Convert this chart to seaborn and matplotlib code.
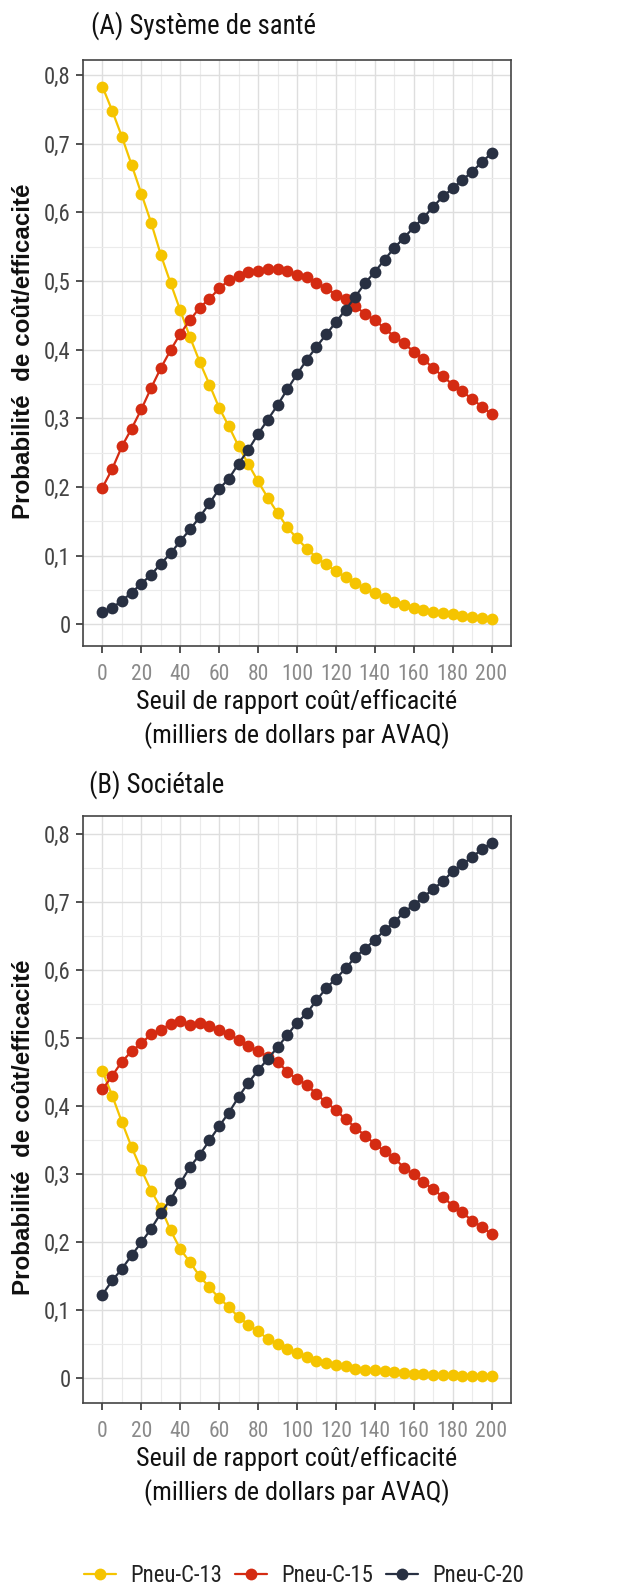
import matplotlib
matplotlib.use("Agg")
import matplotlib.pyplot as plt
import numpy as np
import pandas as pd
import seaborn as sns
from matplotlib import font_manager
from matplotlib.ticker import FixedLocator, MultipleLocator

# --- data -------------------------------------------------------------
seuils = list(range(0, 201, 5))
vaccins = ["Pneu-C-13", "Pneu-C-15", "Pneu-C-20"]
couleurs = ["#F5C400", "#D42B12", "#283042"]

# (A) Health-system perspective
sante_c13 = [0.783, 0.748, 0.710, 0.669, 0.627, 0.585, 0.538, 0.497, 0.457, 0.418,
             0.382, 0.349, 0.315, 0.288, 0.259, 0.233, 0.208, 0.184, 0.162, 0.141,
             0.125, 0.110, 0.097, 0.087, 0.077, 0.068, 0.060, 0.052, 0.045, 0.038,
             0.032, 0.028, 0.024, 0.020, 0.018, 0.016, 0.0145, 0.012, 0.010, 0.009,
             0.007]
sante_c15 = [0.199, 0.226, 0.259, 0.285, 0.313, 0.344, 0.373, 0.399, 0.423, 0.443,
             0.461, 0.474, 0.489, 0.501, 0.507, 0.513, 0.514, 0.518, 0.518, 0.514,
             0.509, 0.506, 0.497, 0.490, 0.480, 0.473, 0.463, 0.452, 0.443, 0.431,
             0.419, 0.409, 0.397, 0.386, 0.373, 0.361, 0.349, 0.339, 0.328, 0.317,
             0.306]
sante_c20 = [0.017, 0.024, 0.034, 0.046, 0.059, 0.072, 0.088, 0.103, 0.121, 0.138,
             0.156, 0.176, 0.197, 0.212, 0.234, 0.254, 0.277, 0.298, 0.319, 0.342,
             0.364, 0.385, 0.404, 0.422, 0.440, 0.458, 0.477, 0.497, 0.513, 0.531,
             0.548, 0.563, 0.578, 0.592, 0.608, 0.623, 0.635, 0.647, 0.659, 0.673,
             0.686]

# (B) Societal perspective
societe_c13 = [0.451, 0.415, 0.376, 0.339, 0.306, 0.275, 0.250, 0.217, 0.189, 0.170,
               0.149, 0.133, 0.117, 0.104, 0.089, 0.078, 0.068, 0.057, 0.050, 0.042,
               0.036, 0.030, 0.025, 0.022, 0.019, 0.017, 0.013, 0.012, 0.011, 0.010,
               0.008, 0.0075, 0.006, 0.005, 0.0045, 0.004, 0.004, 0.003, 0.003, 0.002,
               0.002]
societe_c15 = [0.424, 0.444, 0.465, 0.480, 0.492, 0.505, 0.511, 0.521, 0.524, 0.519,
               0.522, 0.518, 0.512, 0.505, 0.497, 0.488, 0.480, 0.472, 0.465, 0.450,
               0.439, 0.431, 0.417, 0.405, 0.394, 0.380, 0.368, 0.356, 0.344, 0.333,
               0.323, 0.309, 0.299, 0.288, 0.277, 0.266, 0.253, 0.243, 0.231, 0.222,
               0.211]
societe_c20 = [0.122, 0.143, 0.160, 0.180, 0.199, 0.219, 0.242, 0.262, 0.286, 0.310,
               0.328, 0.349, 0.370, 0.390, 0.413, 0.434, 0.452, 0.469, 0.486, 0.504,
               0.522, 0.536, 0.555, 0.573, 0.587, 0.602, 0.619, 0.631, 0.644, 0.658,
               0.670, 0.685, 0.695, 0.707, 0.719, 0.730, 0.745, 0.755, 0.766, 0.777,
               0.787]

x_ticks = [0, 20, 40, 60, 80, 100, 120, 140, 160, 180, 200]
y_ticks = [0, 0.1, 0.2, 0.3, 0.4, 0.5, 0.6, 0.7, 0.8]
y_tick_labels = ["0", "0,1", "0,2", "0,3", "0,4", "0,5", "0,6", "0,7", "0,8"]
titres = ["(A) Système de santé", "(B) Sociétale"]
x_label = "Seuil de rapport coût/efficacité\n(milliers de dollars par AVAQ)"
y_label = "Probabilité  de coût/efficacité"
legende = "Vaccin"

# --- fonts ------------------------------------------------------------
sns.set_style("white")
entries = font_manager.fontManager.ttflist
names = {f.name for f in entries}
narrow_family, narrow_stretch = "Liberation Sans", "normal"
for cand in ["Liberation Sans Narrow", "Arial Narrow", "Roboto Condensed",
             "Open Sans Condensed", "DejaVu Sans Condensed"]:
    if cand in names:
        narrow_family = cand
        break
else:
    for f in entries:
        if f.name in ("Roboto", "Open Sans", "DejaVu Sans", "Noto Sans") and \
                str(f.stretch) in ("condensed", "semi-condensed"):
            narrow_family, narrow_stretch = f.name, f.stretch
            break
plt.rcParams["font.family"] = [narrow_family, "DejaVu Sans"]
plt.rcParams["font.stretch"] = narrow_stretch
BOLD_FAMILY = ["Liberation Sans", "DejaVu Sans"]

W, H = 637, 1585
fig = plt.figure(figsize=(W / 100, H / 100), dpi=100)
renderer = fig.canvas.get_renderer()


def size_for_width(text, target_px, **kw):
    """Font size (pt) that makes `text` span target_px pixels."""
    t = fig.text(0, 0, text, fontsize=20, **kw)
    w = t.get_window_extent(renderer).width
    t.remove()
    return 20 * target_px / w


fs_title = size_for_width(titres[0], 225)
fs_xtick = size_for_width("200", 32)
fs_ytick = size_for_width("0,8", 27)
fs_xlabel = size_for_width("Seuil de rapport coût/efficacité", 320)
fs_ylabel = size_for_width(y_label, 336, family=BOLD_FAMILY, fontweight="bold")
fs_legend = size_for_width("Pneu-C-13", 92)


def long_table(c13, c15, c20):
    frames = []
    for name, vals in zip(vaccins, (c13, c15, c20)):
        frames.append(pd.DataFrame({"seuil": seuils, "prob": vals, legende: name}))
    return pd.concat(frames, ignore_index=True)


panels = [
    (titres[0], long_table(sante_c13, sante_c15, sante_c20)),
    (titres[1], long_table(societe_c13, societe_c15, societe_c20)),
]

# pixel geometry: axes box (left, top, right, bottom), title anchor, y-label centre
boxes = [(83, 60, 511, 646), (83, 816, 511, 1403)]
title_pos = [(91, 34), (89, 793)]
ylabel_centre = [351, 1127]
xlabel_top = 689  # panel A, shifted by the panel offset for B

axes = []
for (titre, df), (l, t, r, b), (tx, ty), yc in zip(panels, boxes, title_pos, ylabel_centre):
    ax = fig.add_axes([l / W, 1 - b / H, (r - l) / W, (b - t) / H])
    sns.lineplot(data=df, x="seuil", y="prob", hue=legende, hue_order=vaccins,
                 palette=couleurs, marker="o", markersize=8.5, markeredgewidth=0,
                 linewidth=1.6, legend=False, ax=ax)
    ax.margins(x=0.05, y=0.05)

    ax.xaxis.set_major_locator(FixedLocator(x_ticks))
    ax.xaxis.set_minor_locator(MultipleLocator(10))
    ax.yaxis.set_major_locator(FixedLocator(y_ticks))
    ax.yaxis.set_minor_locator(MultipleLocator(0.05))
    ax.set_yticklabels(y_tick_labels)
    ax.grid(which="major", color="#dedede", linewidth=1.0)
    ax.grid(which="minor", color="#ebebeb", linewidth=0.8)
    ax.set_axisbelow(True)

    for side in ("left", "bottom", "top", "right"):
        ax.spines[side].set_visible(True)
        ax.spines[side].set_color("#444444")
        ax.spines[side].set_linewidth(1.2)

    ax.tick_params(axis="x", which="major", length=5, width=1.2, color="#333333",
                   labelcolor="#8a8a8a", labelsize=fs_xtick, pad=8, bottom=True)
    ax.tick_params(axis="y", which="major", length=5, width=1.2, color="#333333",
                   labelcolor="#444444", labelsize=fs_ytick, pad=4, left=True)
    ax.tick_params(which="minor", length=0)

    ax.set_xlabel(x_label, fontsize=fs_xlabel, color="#111111", linespacing=1.4)
    ax.xaxis.label.set_va("top")
    top_px = xlabel_top + (b - boxes[0][3])
    ax.xaxis.set_label_coords(0.5, (b - top_px) / (b - t))

    ax.set_ylabel(y_label, fontsize=fs_ylabel, fontweight="bold", color="#111111",
                  family=BOLD_FAMILY)
    ax.yaxis.label.set_va("center")
    ax.yaxis.set_label_coords((23 - l) / (r - l), (b - yc) / (b - t))

    fig.text(tx / W, 1 - ty / H, titre, fontsize=fs_title, color="#111111", va="baseline")
    axes.append(ax)

px = fs_legend * 100 / 72
handles = axes[0].lines[:3]
fig.legend(handles, vaccins, loc="center", ncol=3, frameon=False,
           bbox_to_anchor=(304 / W, 1 - 1575 / H), fontsize=fs_legend,
           handlelength=32 / px, handletextpad=14 / px, columnspacing=13 / px,
           labelcolor="#222222")

fig.savefig("out.png", dpi=100, facecolor="white")
